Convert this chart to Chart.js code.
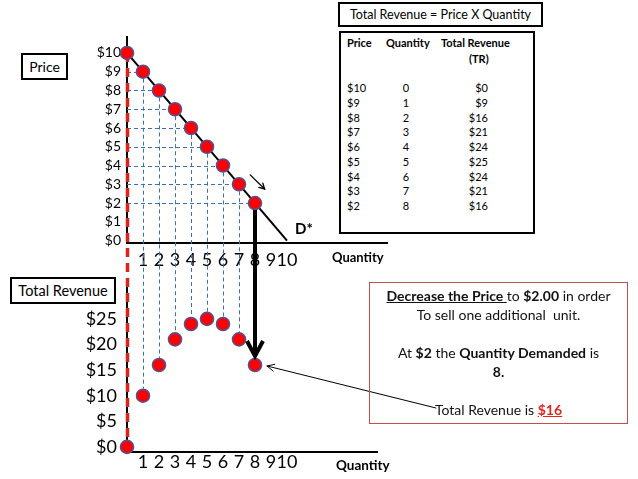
<!DOCTYPE html>
<html>
<head>
<meta charset="utf-8">
<script src="https://cdn.jsdelivr.net/npm/chart.js@4/dist/chart.umd.min.js"></script>
<style>
  html,body{margin:0;padding:0;background:#fff;}
  #wrap{position:relative;width:638px;height:479px;overflow:hidden;font-family:Lato,"Noto Sans",sans-serif;color:#000;}
  canvas{position:absolute;left:0;top:0;}
  #cB{z-index:1;} #cA{z-index:2;}
  .ov{position:absolute;z-index:3;box-sizing:border-box;}
  .lbl{border:2px solid #000;background:#fff;text-align:center;}
  #note{border:1px solid #c0504d;background:transparent;text-align:center;font-size:14px;line-height:19px;padding-top:3px;color:#111;}
  #table{border:2px solid #000;background:#fff;font-size:11px;}
  #table div{position:absolute;white-space:nowrap;}
</style>
</head>
<body>
<div id="wrap">
  <canvas id="cB" width="638" height="479"></canvas>
  <canvas id="cA" width="638" height="479"></canvas>

  <div class="ov lbl" style="left:21px;top:53px;width:47px;height:27px;font-size:14px;line-height:23px;">Price</div>
  <div class="ov lbl" style="left:10px;top:277px;width:106px;height:27px;font-size:14.5px;line-height:23px;">Total Revenue</div>
  <div class="ov" style="left:332px;top:249px;font-size:13px;font-weight:bold;">Quantity</div>
  <div class="ov" style="left:336px;top:457px;font-size:13.5px;font-weight:bold;">Quantity</div>
  <div class="ov" style="left:295px;top:219px;font-size:15px;font-weight:bold;">D*</div>

  <div class="ov lbl" style="left:338px;top:2px;width:205px;height:25px;font-size:12.5px;line-height:21px;">Total Revenue = Price X Quantity</div>
  <div class="ov" id="table" style="left:339px;top:31px;width:196px;height:203px;"></div>

  <div class="ov" id="note" style="left:369px;top:282px;width:259px;height:142px;">
    <b><u>Decrease the Price </u></b>to <b>$2.00</b> in order<br>
    To sell one additional&nbsp; unit.<br><br>
    At <b>$2</b> the <b>Quantity Demanded</b> is<br>
    <b>8.</b><br><br>
    Total Revenue is <b style="color:#e0261f;text-decoration:underline;">$16</b>
  </div>
</div>

<script>
// ---------- data ----------
const quantities   = [0, 1, 2, 3, 4, 5, 6, 7, 8];
const prices       = [10, 9, 8, 7, 6, 5, 4, 3, 2];
const totalRevenue = [0, 10, 16, 21, 24, 25, 24, 21, 16];
const demandQ = [0, 10];
const demandP = [10, 0];

const priceTicks      = [0, 1, 2, 3, 4, 5, 6, 7, 8, 9, 10];
const priceTickLabels = ['$0','$1','$2','$3','$4','$5','$6','$7','$8','$9','$10'];
const qtyTicks        = [1, 2, 3, 4, 5, 6, 7, 8, 9, 10];
const qtyTickLabels   = ['1','2','3','4','5','6','7','8','9','10'];
const trTicks         = [0, 5, 10, 15, 20, 25];
const trTickLabels    = ['$0','$5','$10','$15','$20','$25'];

const tableHeaders = ['Price', 'Quantity', 'Total Revenue', '(TR)'];
const tablePrice   = ['$10','$9','$8','$7','$6','$5','$4','$3','$2'];
const tableQty     = ['0','1','2','3','4','5','6','7','8'];
const tableTR      = ['$0','$9','$16','$21','$24','$25','$24','$21','$16'];

// ---------- table ----------
(function(){
  const t = document.getElementById('table');
  const ox = 339, oy = 31;
  function add(txt, left, top, style){
    const d = document.createElement('div');
    d.textContent = txt;
    d.style.left = (left - ox - 2) + 'px';
    d.style.top = (top - oy - 2) + 'px';
    if (style) d.style.cssText += style;
    t.appendChild(d);
  }
  add(tableHeaders[0], 347, 36, 'font-weight:bold;');
  add(tableHeaders[1], 386, 36, 'font-weight:bold;');
  add(tableHeaders[2], 441, 36, 'font-weight:bold;');
  add(tableHeaders[3], 469, 52, 'font-weight:bold;');
  for (let i = 0; i < tablePrice.length; i++) {
    const y = 81 + i * 14.75;
    add(tablePrice[i], 347, y);
    add(tableQty[i], 400, y, 'width:12px;text-align:center;');
    add(tableTR[i], 462, y, 'width:26px;text-align:right;');
  }
})();

const FONT = 'Lato';
const pointStyle = {
  pointRadius: 6.5, pointHoverRadius: 6.5,
  pointBackgroundColor: '#ff0000',
  pointBorderColor: '#5b4e8c',
  pointBorderWidth: 1.6,
  showLine: false,
  clip: false
};
const noGrid = { display: true, color: 'rgba(0,0,0,0)', drawTicks: false };
const axisBorder = { display: true, color: '#000', width: 2 };

// ---------- bottom chart: total revenue ----------
const chartB = new Chart(document.getElementById('cB'), {
  type: 'scatter',
  data: {
    datasets: [Object.assign({
      data: quantities.map((q, i) => ({ x: q, y: totalRevenue[i] }))
    }, pointStyle)]
  },
  options: {
    responsive: false, animation: false,
    layout: { padding: { top: 280, right: 261, bottom: 0, left: 0 } },
    plugins: { legend: { display: false }, tooltip: { enabled: false } },
    scales: {
      x: {
        type: 'linear', min: 0, max: 15.625,
        afterBuildTicks: s => { s.ticks = qtyTicks.map(v => ({ value: v })); },
        afterFit: s => { s.height = 27; },
        grid: noGrid, border: axisBorder,
        ticks: { padding: 1, color: '#000', font: { family: FONT, size: 18, lineHeight: 1 },
                 maxRotation: 0, autoSkip: false, callback: (v, i) => qtyTickLabels[i] }
      },
      y: {
        type: 'linear', min: -1, max: 32.6,
        afterBuildTicks: s => { s.ticks = trTicks.map(v => ({ value: v })); },
        afterFit: s => { s.width = 127; },
        grid: noGrid, border: axisBorder,
        ticks: { padding: 10, color: '#000', font: { family: FONT, size: 18 },
                 autoSkip: false, callback: (v, i) => trTickLabels[i] }
      }
    }
  }
});

// ---------- connectors / annotations plugin (top canvas) ----------
function arrowHead(ctx, x1, y1, x2, y2, len, ang) {
  const a = Math.atan2(y2 - y1, x2 - x1);
  ctx.beginPath();
  ctx.moveTo(x2 - len * Math.cos(a - ang), y2 - len * Math.sin(a - ang));
  ctx.lineTo(x2, y2);
  ctx.lineTo(x2 - len * Math.cos(a + ang), y2 - len * Math.sin(a + ang));
  ctx.stroke();
}

const connectors = {
  id: 'connectors',
  beforeDatasetsDraw(chart) {
    const ctx = chart.ctx;
    const xA = chart.scales.x, yA = chart.scales.y;
    const xB = chartB.scales.x, yB = chartB.scales.y;
    const r = 7;
    const last = quantities.length - 1;
    const al = v => Math.round(v) + 0.5;
    ctx.save();

    // blue dashed guide lines
    ctx.strokeStyle = '#3f70b3';
    ctx.lineWidth = 1;
    ctx.setLineDash([4, 3]);
    const x0 = xA.getPixelForValue(0);
    for (let i = 1; i <= last; i++) {
      const px = xA.getPixelForValue(quantities[i]);
      const py = yA.getPixelForValue(prices[i]);
      ctx.beginPath(); ctx.moveTo(x0, al(py)); ctx.lineTo(px, al(py)); ctx.stroke();
      if (i < last) {
        const by = yB.getPixelForValue(totalRevenue[i]) - r;
        ctx.beginPath(); ctx.moveTo(al(px), py); ctx.lineTo(al(px), by); ctx.stroke();
      }
    }

    // red dashed line along the vertical axes
    ctx.strokeStyle = '#e0211c';
    ctx.lineWidth = 3.5;
    ctx.setLineDash([9, 6]);
    ctx.beginPath();
    ctx.moveTo(x0 + 0.5, yA.getPixelForValue(prices[0]));
    ctx.lineTo(x0 + 0.5, yB.getPixelForValue(totalRevenue[0]) - r);
    ctx.stroke();

    // thick black arrow from last price point to its revenue point
    ctx.setLineDash([]);
    ctx.strokeStyle = '#000';
    ctx.lineWidth = 4;
    ctx.lineJoin = 'miter';
    const ax = xA.getPixelForValue(quantities[last]);
    const ay1 = yA.getPixelForValue(prices[last]);
    const ay2 = yB.getPixelForValue(totalRevenue[last]) - 9;
    ctx.beginPath(); ctx.moveTo(ax, ay1); ctx.lineTo(ax, ay2 - 2); ctx.stroke();
    ctx.beginPath();
    ctx.moveTo(ax - 8, ay2 - 15); ctx.lineTo(ax, ay2); ctx.lineTo(ax + 8, ay2 - 15);
    ctx.stroke();
    ctx.restore();
  },
  afterDatasetsDraw(chart) {
    const ctx = chart.ctx;
    const xA = chart.scales.x, yA = chart.scales.y;
    const xB = chartB.scales.x, yB = chartB.scales.y;
    const last = quantities.length - 1;
    ctx.save();
    ctx.strokeStyle = '#000';
    ctx.lineCap = 'round';
    // small arrow beside the demand curve
    const s1x = xA.getPixelForValue(7.7), s1y = yA.getPixelForValue(3.5);
    const s2x = xA.getPixelForValue(8.6), s2y = yA.getPixelForValue(2.75);
    ctx.lineWidth = 1.3;
    ctx.beginPath(); ctx.moveTo(s1x, s1y); ctx.lineTo(s2x, s2y); ctx.stroke();
    arrowHead(ctx, s1x, s1y, s2x, s2y, 6, 0.5);
    // thin arrow from the note to the revenue point
    const ex = xB.getPixelForValue(quantities[last]) + 12;
    const ey = yB.getPixelForValue(totalRevenue[last]) + 1;
    ctx.lineWidth = 1;
    ctx.beginPath(); ctx.moveTo(436, 408); ctx.lineTo(ex, ey); ctx.stroke();
    arrowHead(ctx, 436, 408, ex, ey, 8, 0.45);
    ctx.restore();
  }
};

// ---------- top chart: price / demand ----------
const chartA = new Chart(document.getElementById('cA'), {
  type: 'scatter',
  data: {
    datasets: [
      Object.assign({ data: quantities.map((q, i) => ({ x: q, y: prices[i] })) }, pointStyle),
      {
        data: demandQ.map((q, i) => ({ x: q, y: demandP[i] })),
        showLine: true, borderColor: '#000', borderWidth: 2,
        pointRadius: 0, pointHoverRadius: 0, clip: false
      }
    ]
  },
  options: {
    responsive: false, animation: false,
    layout: { padding: { top: 37, right: 251, bottom: 199, left: 0 } },
    plugins: { legend: { display: false }, tooltip: { enabled: false } },
    scales: {
      x: {
        type: 'linear', min: 0, max: 16.25,
        afterBuildTicks: s => { s.ticks = qtyTicks.map(v => ({ value: v })); },
        afterFit: s => { s.height = 37; },
        grid: noGrid, border: axisBorder,
        ticks: { padding: 8, color: '#000', font: { family: FONT, size: 18, lineHeight: 1 },
                 maxRotation: 0, autoSkip: false, callback: (v, i) => qtyTickLabels[i] }
      },
      y: {
        type: 'linear', min: -0.13, max: 10.85,
        afterBuildTicks: s => { s.ticks = priceTicks.map(v => ({ value: v })); },
        afterFit: s => { s.width = 127; },
        grid: noGrid, border: axisBorder,
        ticks: { padding: 6, color: '#000', font: { family: FONT, size: 14 },
                 autoSkip: false, callback: (v, i) => priceTickLabels[i] }
      }
    }
  },
  plugins: [connectors]
});
</script>
</body>
</html>
